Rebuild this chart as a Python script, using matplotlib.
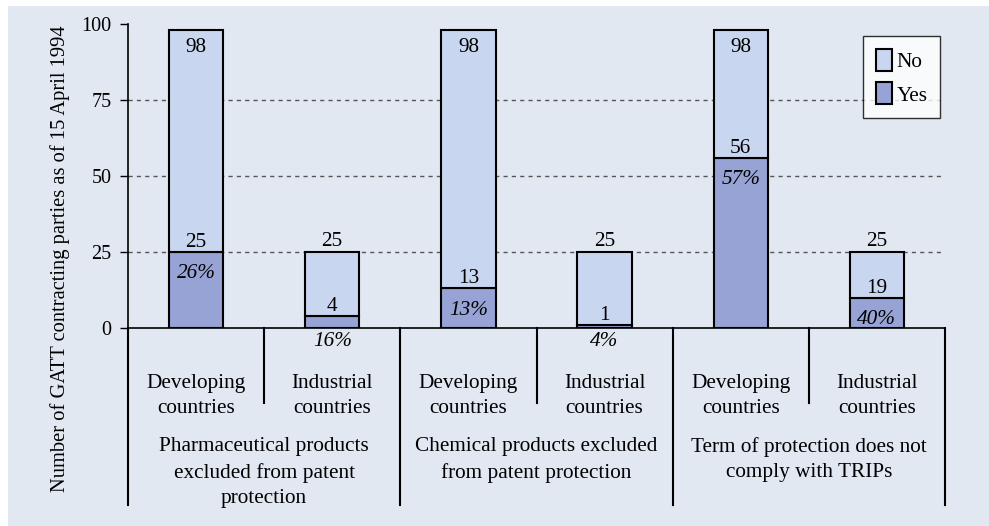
import matplotlib
matplotlib.use("Agg")
import matplotlib.pyplot as plt
from matplotlib.patches import Rectangle
import matplotlib.transforms as mtransforms

plt.rcParams['font.family'] = ['Liberation Serif', 'DejaVu Serif']

categories = ["Developing\ncountries", "Industrial\ncountries"] * 3
groups = ["Pharmaceutical products\nexcluded from patent\nprotection",
          "Chemical products excluded\nfrom patent protection",
          "Term of protection does not\ncomply with TRIPs"]
totals = [98, 25, 98, 25, 98, 25]
yes_values = [25, 4, 13, 1, 56, 10]
yes_labels = ["25", "4", "13", "1", "56", "19"]
pct_labels = ["26%", "16%", "13%", "4%", "57%", "40%"]
no_values = [t - y for t, y in zip(totals, yes_values)]

BG = "#E1E8F2"
NO_C = "#C9D6EF"
YES_C = "#98A3D5"

W, H = 989, 526
fig = plt.figure(figsize=(W / 100, H / 100), dpi=100)
fig.patch.set_facecolor("white")
fig.patches.append(Rectangle((8 / W, 0), 1 - 8 / W, 1 - 6 / H, transform=fig.transFigure,
                             facecolor=BG, edgecolor="none", zorder=-10))

ax = fig.add_axes([128 / W, 198 / H, (945 - 128) / W, 304 / H])
ax.set_facecolor(BG)
ax.patch.set_alpha(0)

x = list(range(len(totals)))
bw = 0.40
ax.bar(x, yes_values, width=bw, color=YES_C, edgecolor="black", linewidth=1.5, zorder=3, label="Yes")
ax.bar(x, no_values, width=bw, bottom=yes_values, color=NO_C, edgecolor="black", linewidth=1.5,
       zorder=3, label="No")

ax.set_xlim(-0.5, 5.5)
ax.set_ylim(0, 100)
ax.set_yticks([0, 25, 50, 75, 100])
ax.tick_params(axis='y', direction='out', length=6, width=1, labelsize=14.5, pad=6)
ax.set_xticks([])
for s in ["top", "right"]:
    ax.spines[s].set_visible(False)
ax.spines["left"].set_linewidth(1.2)
ax.spines["bottom"].set_linewidth(1.2)
for yv in [25, 50, 75]:
    ax.axhline(yv, color="#555555", linestyle=(0, (3, 3)), linewidth=1, zorder=1)

fig.text(60 / W, 1 - 259 / H, "Number of GATT contracting parties as of 15 April 1994",
         rotation=90, ha="center", va="center", fontsize=14.8)

fs = 15.3
off = mtransforms.offset_copy
for i in range(len(totals)):
    # total label
    if totals[i] > 90:
        ax.text(i, totals[i], str(totals[i]), ha="center", va="top", fontsize=fs, zorder=5,
                transform=off(ax.transData, fig=fig, x=0, y=-6, units='points'))
    else:
        ax.text(i, totals[i], str(totals[i]), ha="center", va="bottom", fontsize=fs, zorder=5,
                transform=off(ax.transData, fig=fig, x=0, y=0.5, units='points'))
    # yes count label
    ax.text(i, yes_values[i], yes_labels[i], ha="center", va="bottom", fontsize=fs, zorder=5,
            transform=off(ax.transData, fig=fig, x=0, y=0, units='points'))
    # percentage
    if yes_values[i] >= 8:
        ax.text(i, yes_values[i], pct_labels[i], ha="center", va="top", fontsize=fs, style="italic",
                zorder=5, transform=off(ax.transData, fig=fig, x=0, y=-9, units='points'))
    else:
        ax.text(i, 0, pct_labels[i], ha="center", va="top", fontsize=fs, style="italic",
                zorder=5, transform=off(ax.transData, fig=fig, x=0, y=-3, units='points'))

trans = mtransforms.blended_transform_factory(ax.transData, ax.transAxes)
long_y = -(505 - 328) / 304
short_y = -(403 - 328) / 304
for b in [-0.5, 1.5, 3.5, 5.5]:
    ax.plot([b, b], [0, long_y], transform=trans, color="black", lw=1.5, clip_on=False)
for b in [0.5, 2.5, 4.5]:
    ax.plot([b, b], [0, short_y], transform=trans, color="black", lw=1.5, clip_on=False)

for i, c in enumerate(categories):
    ax.text(i, -(396 - 328) / 304, c, transform=trans, ha="center", va="center", fontsize=fs,
            linespacing=1.4)
for g, name in enumerate(groups):
    ax.text(2 * g + 0.5, -(437 - 328) / 304, name, transform=trans, ha="center", va="top",
            fontsize=fs, linespacing=1.45)

handles, labels = ax.get_legend_handles_labels()
leg = ax.legend(handles[::-1], labels[::-1], loc="upper right",
                bbox_to_anchor=(1.0 - 5 / 817, 1 - 12 / 304), borderaxespad=0,
                fontsize=fs, frameon=True, fancybox=False, edgecolor="black", handlelength=0.75,
                handleheight=1.2, handletextpad=0.2, borderpad=0.6, labelspacing=0.5)
leg.get_frame().set_linewidth(1)
leg.get_frame().set_facecolor("white")

fig.savefig("out.png", dpi=100, facecolor=fig.get_facecolor())
